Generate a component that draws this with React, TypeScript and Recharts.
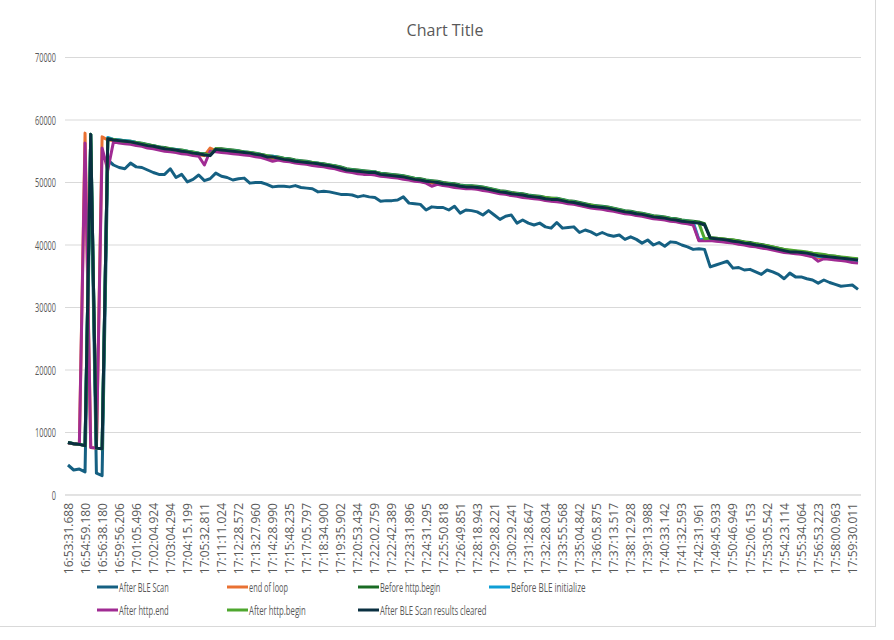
import React from "react";
import { CartesianGrid, Line, LineChart, XAxis, YAxis } from "recharts";

// every third category carries a label on the axis
const TICK_LABELS = [
  "16:53:31.688", "16:54:59.180", "16:56:38.180", "16:59:56.206", "17:01:05.496", "17:02:04.924",
  "17:03:04.294", "17:04:15.199", "17:05:32.811", "17:11:11.024", "17:12:28.572", "17:13:27.960",
  "17:14:28.990", "17:15:48.235", "17:17:05.797", "17:18:34.900", "17:19:35.902", "17:20:53.434",
  "17:22:02.759", "17:22:42.389", "17:23:31.896", "17:24:31.295", "17:25:50.818", "17:26:49.851",
  "17:28:18.943", "17:29:28.221", "17:30:29.241", "17:31:28.647", "17:32:28.034", "17:33:55.568",
  "17:35:04.842", "17:36:05.875", "17:37:13.517", "17:38:12.928", "17:39:13.988", "17:40:33.142",
  "17:41:32.593", "17:42:31.961", "17:49:45.933", "17:50:46.949", "17:52:06.153", "17:53:05.542",
  "17:54:23.114", "17:55:34.064", "17:56:53.223", "17:58:00.963", "17:59:30.011",
];
const LABEL_EVERY = 3;

const AFTER_BLE_SCAN = [
  4800, 4000, 4150, 3700, 55000, 3500, 3100, 53600, 52800, 52400,
  52200, 53100, 52500, 52400, 52000, 51600, 51300, 51300, 52200, 50800,
  51300, 50100, 50500, 51200, 50300, 50600, 51500, 51000, 50800, 50400,
  50600, 50700, 49900, 50000, 50000, 49700, 49300, 49400, 49400, 49300,
  49500, 49200, 49100, 49000, 48500, 48600, 48500, 48300, 48100, 48100,
  48000, 47700, 47900, 47700, 47600, 47000, 47100, 47100, 47200, 47700,
  46700, 46600, 46500, 45600, 46100, 46000, 46000, 45600, 46200, 45100,
  45600, 45500, 45300, 44800, 45500, 44800, 44100, 44600, 44800, 43500,
  44000, 43500, 43200, 43500, 42900, 42700, 43600, 42700, 42800, 42900,
  42000, 42400, 42100, 41600, 42000, 41600, 41400, 41600, 40900, 41300,
  40900, 40300, 40800, 40000, 40400, 39800, 40500, 40400, 40000, 39700,
  39300, 39400, 39300, 36500, 36800, 37100, 37400, 36300, 36400, 36000,
  36100, 35700, 35300, 36000, 35700, 35300, 34600, 35500, 34900, 34900,
  34600, 34400, 33900, 34400, 34000, 33700, 33400, 33500, 33600, 32900,
];

const END_OF_LOOP = [
  8300, 8200, 8100, 57900, 7600, 7500, 57300, 56800, 56700, 56500,
  56400, 56300, 56100, 56000, 55700, 55600, 55400, 55200, 55100, 55000,
  54800, 54700, 54500, 54400, 54300, 55500, 55100, 55000, 54900, 54800,
  54700, 54600, 54500, 54300, 54200, 53900, 53800, 53700, 53500, 53400,
  53200, 53100, 53000, 52900, 52800, 52600, 52500, 52300, 52100, 51800,
  51700, 51600, 51500, 51400, 51400, 51100, 51000, 50900, 50800, 50700,
  50500, 50300, 50200, 50000, 49900, 49800, 49600, 49500, 49400, 49200,
  49100, 49100, 49000, 48900, 48700, 48500, 48300, 48200, 48000, 47900,
  47800, 47600, 47500, 47400, 47200, 47100, 47100, 46900, 46700, 46600,
  46400, 46200, 46000, 45900, 45800, 45700, 45500, 45300, 45100, 45000,
  44800, 44700, 44500, 44300, 44200, 44100, 43900, 43800, 43600, 43500,
  43400, 40800, 40800, 40800, 40700, 40600, 40500, 40400, 40200, 40100,
  39900, 39800, 39600, 39500, 39300, 39100, 38900, 38800, 38700, 38600,
  38400, 38200, 38000, 37900, 37800, 37700, 37600, 37500, 37300, 37200,
];

const BEFORE_HTTP_BEGIN = [
  8400, 8200, 8100, 7900, 57700, 7500, 7400, 57000, 56900, 56800,
  56700, 56600, 56400, 56300, 56100, 55900, 55700, 55600, 55400, 55300,
  55200, 55000, 54900, 54700, 54600, 54400, 55400, 55400, 55300, 55200,
  55100, 54900, 54800, 54700, 54500, 54300, 54200, 54100, 53900, 53800,
  53600, 53500, 53400, 53200, 53100, 53000, 52800, 52700, 52500, 52200,
  52100, 52000, 51900, 51800, 51700, 51500, 51400, 51300, 51200, 51100,
  50900, 50700, 50600, 50400, 50300, 50200, 50000, 49900, 49800, 49600,
  49500, 49500, 49400, 49300, 49100, 48900, 48700, 48600, 48400, 48300,
  48200, 48000, 47900, 47800, 47600, 47500, 47500, 47300, 47100, 47000,
  46800, 46600, 46400, 46300, 46200, 46100, 45900, 45700, 45500, 45400,
  45200, 45100, 44900, 44700, 44600, 44500, 44300, 44200, 44000, 43900,
  43800, 43700, 43400, 41200, 41100, 41000, 40900, 40800, 40700, 40500,
  40400, 40200, 40100, 39900, 39700, 39500, 39300, 39100, 39000, 38900,
  38800, 38700, 38500, 38400, 38300, 38200, 38000, 37900, 37800, 37700,
];

const BEFORE_BLE_INIT = [
  8400, 8200, 8100, 7900, 57700, 7500, 7400, 57200, 56900, 56800,
  56700, 56600, 56400, 56200, 56000, 55900, 55700, 55500, 55400, 55300,
  55100, 55000, 54800, 54700, 54500, 54400, 55300, 55300, 55200, 55100,
  55000, 54900, 54800, 54600, 54500, 54200, 54200, 54000, 53800, 53700,
  53500, 53400, 53300, 53200, 53100, 52900, 52800, 52600, 52400, 52100,
  52000, 51900, 51800, 51700, 51700, 51400, 51300, 51200, 51100, 51000,
  50800, 50600, 50500, 50300, 50200, 50100, 49900, 49800, 49700, 49500,
  49400, 49400, 49300, 49200, 49000, 48800, 48600, 48500, 48300, 48200,
  48100, 47900, 47800, 47700, 47500, 47400, 47400, 47200, 47000, 46900,
  46700, 46500, 46300, 46200, 46100, 46000, 45800, 45600, 45400, 45300,
  45100, 45000, 44800, 44600, 44500, 44400, 44200, 44100, 43900, 43800,
  43700, 40900, 40900, 40900, 40900, 40800, 40700, 40500, 40400, 40200,
  40100, 39900, 39800, 39600, 39400, 39200, 39000, 38800, 38800, 38700,
  38600, 38400, 38200, 38100, 38000, 37900, 37800, 37700, 37600, 37500,
];

const AFTER_HTTP_END = [
  8300, 8200, 8100, 56300, 7600, 7500, 55500, 52000, 56500, 56300,
  56200, 56100, 55900, 55800, 55500, 55400, 55200, 55000, 54900, 54800,
  54600, 54500, 54300, 54200, 52800, 55000, 54900, 54800, 54700, 54600,
  54500, 54400, 54300, 54100, 54000, 53700, 53400, 53600, 53400, 53300,
  53100, 53000, 52900, 52700, 52600, 52500, 52300, 52200, 51900, 51700,
  51600, 51400, 51300, 51300, 51200, 51000, 50900, 50800, 50700, 50500,
  50400, 50200, 50100, 49900, 49400, 49700, 49500, 49400, 49200, 49100,
  49000, 49000, 48900, 48700, 48600, 48400, 48200, 48100, 47900, 47800,
  47600, 47500, 47400, 47300, 47100, 47000, 46900, 46800, 46600, 46500,
  46300, 46100, 45900, 45800, 45700, 45500, 45400, 45200, 45000, 44900,
  44700, 44600, 44400, 44200, 44100, 44000, 43800, 43700, 43500, 43400,
  43200, 40700, 40700, 40700, 40600, 40500, 40400, 40300, 40100, 40000,
  39800, 39700, 39500, 39400, 39200, 39000, 38800, 38700, 38600, 38500,
  38300, 38100, 37400, 37800, 37700, 37600, 37500, 37400, 37200, 37100,
];

const AFTER_HTTP_BEGIN = [
  8400, 8200, 8100, 7900, 57700, 7500, 7400, 57000, 56900, 56700,
  56600, 56500, 56400, 56200, 56000, 55900, 55700, 55500, 55400, 55200,
  55100, 55000, 54800, 54700, 54500, 54400, 55400, 55300, 55200, 55100,
  55000, 54900, 54800, 54600, 54500, 54300, 54100, 54000, 53800, 53700,
  53500, 53400, 53300, 53200, 53100, 52900, 52800, 52600, 52400, 52100,
  52000, 51900, 51800, 51700, 51700, 51400, 51300, 51200, 51100, 51000,
  50800, 50600, 50500, 50300, 50200, 50100, 49900, 49800, 49700, 49500,
  49400, 49400, 49300, 49200, 49000, 48800, 48600, 48500, 48300, 48200,
  48100, 47900, 47800, 47700, 47600, 47500, 47400, 47200, 47000, 46900,
  46700, 46500, 46400, 46200, 46100, 46000, 45800, 45600, 45400, 45300,
  45100, 45000, 44800, 44600, 44500, 44400, 44200, 44100, 43900, 43800,
  43700, 43500, 41000, 41100, 41100, 41000, 40900, 40800, 40600, 40500,
  40300, 40200, 40000, 39900, 39700, 39500, 39300, 39200, 39100, 39000,
  38900, 38700, 38600, 38500, 38300, 38200, 38100, 38000, 37900, 37800,
];

const AFTER_SCAN_CLEARED = [
  8400, 8200, 8100, 7900, 57700, 7500, 7400, 57000, 56800, 56700,
  56600, 56500, 56300, 56100, 55900, 55800, 55600, 55400, 55300, 55200,
  55000, 54900, 54700, 54600, 54400, 54300, 55300, 55200, 55100, 55000,
  54900, 54800, 54700, 54500, 54400, 54100, 54100, 53900, 53700, 53600,
  53400, 53300, 53200, 53100, 53000, 52800, 52700, 52500, 52300, 52000,
  51900, 51800, 51700, 51600, 51600, 51300, 51200, 51100, 51000, 50900,
  50700, 50500, 50400, 50200, 50100, 50000, 49800, 49700, 49600, 49400,
  49300, 49300, 49200, 49100, 48900, 48700, 48500, 48400, 48200, 48100,
  48000, 47800, 47700, 47600, 47400, 47300, 47300, 47100, 46900, 46800,
  46600, 46400, 46200, 46100, 46000, 45900, 45700, 45500, 45300, 45200,
  45000, 44900, 44700, 44500, 44400, 44300, 44100, 44000, 43800, 43700,
  43600, 43500, 43200, 41100, 41000, 40900, 40800, 40600, 40500, 40300,
  40200, 40000, 39900, 39700, 39500, 39300, 39100, 38900, 38900, 38800,
  38700, 38500, 38300, 38200, 38100, 38000, 37900, 37800, 37700, 37600,
];

const Y_TICKS = [0, 10000, 20000, 30000, 40000, 50000, 60000, 70000];

// drawing order = Excel series order (last one sits on top)
const SERIES = [
  { key: "scan", name: "After BLE Scan", values: AFTER_BLE_SCAN, color: "#156082" },
  { key: "loop", name: "end of loop", values: END_OF_LOOP, color: "#E97132" },
  { key: "httpBegin", name: "Before http.begin", values: BEFORE_HTTP_BEGIN, color: "#196B24" },
  { key: "bleInit", name: "Before BLE initialize", values: BEFORE_BLE_INIT, color: "#0F9ED5" },
  { key: "httpEnd", name: "After http.end", values: AFTER_HTTP_END, color: "#A02B93" },
  { key: "afterBegin", name: "After http.begin", values: AFTER_HTTP_BEGIN, color: "#4EA72E" },
  { key: "cleared", name: "After BLE Scan results cleared", values: AFTER_SCAN_CLEARED, color: "#0A3041" },
];

const data = AFTER_BLE_SCAN.map((_, i) => {
  const row: Record<string, number> = { i };
  SERIES.forEach((s) => (row[s.key] = s.values[i]));
  return row;
});

const FONT = "'Open Sans', 'Liberation Sans', sans-serif";
const GREY = "#595959";

const XTick = ({ x, y, payload }: any) => {
  const label = TICK_LABELS[payload.value / LABEL_EVERY];
  if (!label) return null;
  return (
    <text
      x={x}
      y={y}
      transform={`rotate(-90 ${x} ${y})`}
      textAnchor="end"
      dominantBaseline="central"
      fill={GREY}
      fontSize={12}
      fontFamily={FONT}
    >
      {label}
    </text>
  );
};

// value labels on the left are set narrower than the time labels
const YTick = ({ x, y, payload }: any) => {
  const label = String(payload.value);
  return (
    <text
      x={x}
      y={y}
      textAnchor="end"
      dominantBaseline="central"
      fill={GREY}
      fontSize={12}
      fontFamily={FONT}
      textLength={label.length * 4.2}
      lengthAdjust="spacingAndGlyphs"
    >
      {label}
    </text>
  );
};

function Legend() {
  const cols = [97, 227, 358, 489];
  return (
    <svg width={894} height={50} style={{ position: "absolute", left: 0, top: 570 }}>
      {SERIES.map((s, idx) => {
        const x = cols[idx % 4];
        const y = idx < 4 ? 17 : 40;
        return (
          <g key={s.key}>
            <line x1={x} x2={x + 21} y1={y} y2={y} stroke={s.color} strokeWidth={3} />
            <text
              x={x + 22}
              y={y + 0.5}
              dominantBaseline="central"
              fontSize={12.5}
              fontFamily={FONT}
              fill={GREY}
              textLength={s.name.length * 3.55}
              lengthAdjust="spacingAndGlyphs"
            >
              {s.name}
            </text>
          </g>
        );
      })}
    </svg>
  );
}

export default function App() {
  return (
    <div style={{ position: "absolute", left: 0, top: 0, width: 894, height: 640, background: "#fff" }}>
      {/* chart-area frame: only its right and bottom edges fall inside the picture */}
      <div
        style={{
          position: "absolute",
          left: -1,
          top: -1,
          width: 877,
          height: 628,
          border: "1px solid #d9d9d9",
          boxSizing: "border-box",
        }}
      />
      <div
        style={{
          position: "absolute",
          left: 0,
          top: 19,
          width: 890,
          textAlign: "center",
          fontFamily: FONT,
          fontSize: 16,
          lineHeight: "22px",
          color: GREY,
        }}
      >
        Chart Title
      </div>
      <div style={{ position: "absolute", left: 0, top: 0 }}>
        <LineChart width={894} height={640} data={data} margin={{ top: 57.5, right: 33, bottom: 0, left: 0 }}>
          <CartesianGrid vertical={false} stroke="#d9d9d9" />
          <XAxis
            dataKey="i"
            type="category"
            interval={LABEL_EVERY - 1}
            height={145}
            padding={{ left: 3, right: 3 }}
            tickLine={false}
            axisLine={{ stroke: "#d9d9d9" }}
            tick={<XTick />}
          />
          <YAxis
            domain={[0, 70000]}
            ticks={Y_TICKS}
            width={65}
            tickLine={false}
            axisLine={false}
            tickMargin={3}
            tick={<YTick />}
          />
          {SERIES.map((s) => (
            <Line
              key={s.key}
              dataKey={s.key}
              name={s.name}
              type="linear"
              stroke={s.color}
              strokeWidth={3}
              strokeLinejoin="round"
              dot={false}
              activeDot={false}
              isAnimationActive={false}
            />
          ))}
        </LineChart>
      </div>
      <Legend />
    </div>
  );
}
